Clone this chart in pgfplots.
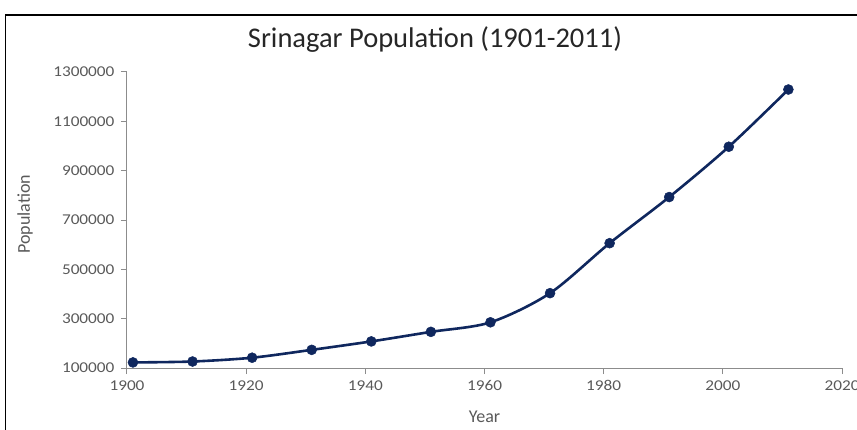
\documentclass[border=0pt]{standalone}
\usepackage{pgfplots}
\pgfplotsset{compat=1.18}
\usepackage{fontspec}
\setmainfont{Carlito}
\newfontfamily\tickfont[FakeStretch=1.15]{Carlito}
\definecolor{navy}{HTML}{0F275E}
\definecolor{tickgray}{HTML}{595959}
\definecolor{axisgray}{HTML}{8C8C8C}
\begin{document}
\begin{tikzpicture}
\useasboundingbox (0,0) rectangle (857pt,429pt);
\draw[black, line width=1.4pt] (5.5pt,-30pt) rectangle (900pt,414pt);
\begin{axis}[
  at={(127pt,61pt)}, anchor=south west,
  scale only axis, width=715pt, height=296pt,
  xmin=1900, xmax=2020, ymin=100000, ymax=1300000,
  xtick={1900,1920,1940,1960,1980,2000,2020},
  xticklabels={1900,1920,1940,1960,1980,2000,2020},
  ytick={100000,300000,500000,700000,900000,1100000,1300000},
  yticklabels={100000,300000,500000,700000,900000,1100000,1300000},
  axis x line*=bottom, axis y line*=left,
  axis line style={axisgray, line width=1pt},
  tick style={axisgray, line width=1pt},
  tick align=outside, major tick length=6pt,
  scaled ticks=false,
  ticklabel style={font=\tickfont\fontsize{15}{17}\selectfont, text=tickgray},
  yticklabel style={xshift=-3pt},
  xticklabel style={yshift=-3pt},
  xlabel={Year}, ylabel={Population},
  label style={font=\fontsize{18}{20}\selectfont, text=tickgray},
  xlabel style={at={(axis description cs:0.5,0)}, anchor=center, yshift=-49pt},
  ylabel style={at={(axis description cs:-0.1427,0.52)}, anchor=center},
  clip=false,
]
\addplot[navy, line width=2.6pt, smooth, tension=0.5, mark=*, mark size=5pt,
  mark options={fill=navy, draw=navy, line width=0.5pt}]
  coordinates {
  (1901,122618) (1911,126344) (1921,141735) (1931,173573)
  (1941,207787) (1951,246522) (1961,285257) (1971,403413)
  (1981,606002) (1991,793000) (2001,997000) (2011,1229000)
  };
\end{axis}
\node[font=\fontsize{28.5}{31}\selectfont, text=black!85] at (435pt,389pt) {Srinagar Population (1901-2011)};
\end{tikzpicture}
\end{document}
